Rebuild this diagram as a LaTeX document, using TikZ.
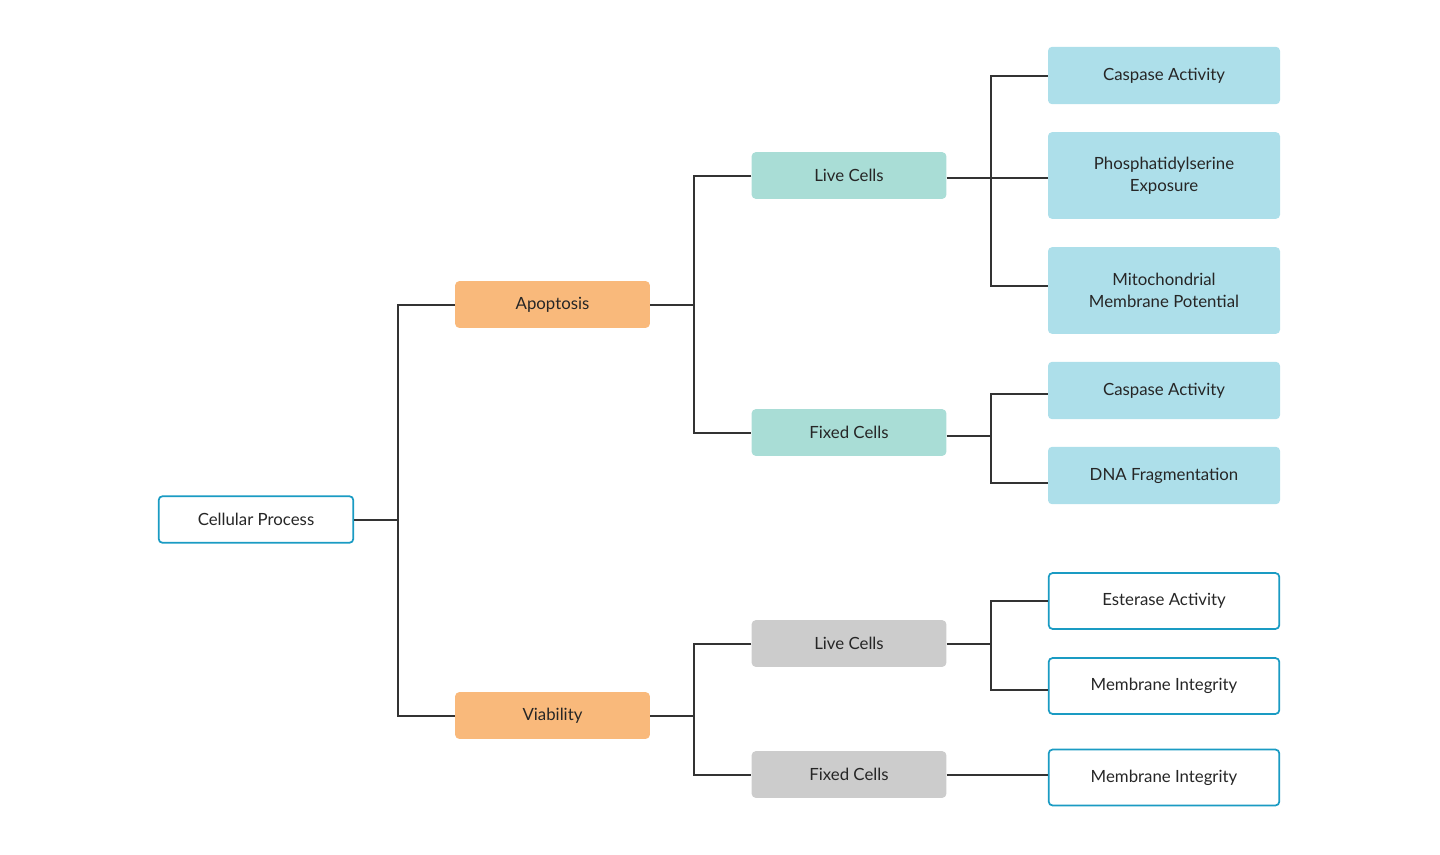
\documentclass[tikz,border=0pt]{standalone}
\usepackage{fontspec}
\setmainfont{Lato}
\definecolor{orangebox}{HTML}{F9B97B}
\definecolor{mintbox}{HTML}{A9DDD6}
\definecolor{greybox}{HTML}{CCCCCC}
\definecolor{leafblue}{HTML}{ADDFEA}
\definecolor{frameblue}{HTML}{1A9BC3}
\definecolor{linegrey}{HTML}{333333}

\begin{document}
\begin{tikzpicture}[x=0.75pt, y=-0.75pt,
    box/.style={rounded corners=3pt, minimum width=146pt, minimum height=35pt, inner sep=0pt,
                align=center, text=black!85, font=\fontsize{12.6}{16.5}\selectfont},
    root/.style={box, draw=frameblue, line width=1.3pt, fill=white},
    branch/.style={box, fill=orangebox},
    livebox/.style={box, fill=mintbox},
    greycell/.style={box, fill=greybox},
    leaf/.style={box, minimum width=174pt, minimum height=43pt, fill=leafblue},
    tallleaf/.style={leaf, minimum height=65pt},
    openleaf/.style={leaf, fill=white, draw=frameblue, line width=1.3pt, minimum width=173pt, minimum height=42pt},
    link/.style={draw=linegrey, line width=1.5pt}]
    \useasboundingbox (0,0) rectangle (1440,854);

    % Root and first split:
    \node[root] (root) at (256,519.5) {Cellular Process};
    \node[branch] (apop) at (552.5,304.5) {Apoptosis};
    \node[branch] (viab) at (552.5,715.5) {Viability};

    % Cell states:
    \node[livebox] (alive) at (849,175.5) {Live Cells};
    \node[livebox] (afixed) at (849,432.5) {Fixed Cells};
    \node[greycell] (vlive) at (849,643.5) {Live Cells};
    \node[greycell] (vfixed) at (849,774.5) {Fixed Cells};

    % Assays:
    \node[leaf] (casp) at (1164,75.5) {Caspase Activity};
    \node[tallleaf] (phos) at (1164,175.5) {Phosphatidylserine\\Exposure};
    \node[tallleaf] (mito) at (1164,290.5) {Mitochondrial\\Membrane Potential};
    \node[leaf] (caspfix) at (1164,390.5) {Caspase Activity};
    \node[leaf] (dna) at (1164,475.5) {DNA Fragmentation};
    \node[openleaf] (ester) at (1164,601) {Esterase Activity};
    \node[openleaf] (memlive) at (1164,686) {Membrane Integrity};
    \node[openleaf] (memfix) at (1164,777.5) {Membrane Integrity};

    % Connectors:
    \draw[link] (root.east) -- ++(44,0) coordinate (j0);
    \draw[link] (apop.west) -| (j0) |- (viab.west);

    \draw[link] (apop.east) -- ++(44,0) coordinate (j1);
    \draw[link] (alive.west) -| (j1) |- (afixed.west);

    \draw[link] (viab.east) -- ++(44,0) coordinate (j2);
    \draw[link] (vlive.west) -| (j2) |- (vfixed.west);

    \path ([yshift=-2pt]alive.east) ++(44,0) coordinate (j3);
    \draw[link] ([yshift=-2pt]alive.east) -- ([yshift=-2pt]phos.west);
    \draw[link] (casp.west) -| (j3) |- ([yshift=3.4pt]mito.west);

    \draw[link] ([yshift=-2.6pt]afixed.east) -- ++(44,0) coordinate (j4);
    \draw[link] ([yshift=-2.6pt]caspfix.west) -| (j4) |- ([yshift=-5.6pt]dna.west);

    \draw[link] (vlive.east) -- ++(44,0) coordinate (j5);
    \draw[link] (ester.west) -| (j5) |- ([yshift=-3pt]memlive.west);

    \draw[link] (vfixed.east) -- (vfixed.east -| memfix.west);
\end{tikzpicture}
\end{document}
